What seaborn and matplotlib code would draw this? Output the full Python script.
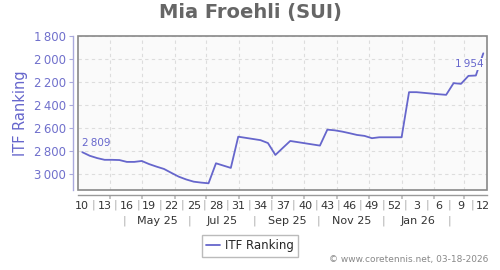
import datetime as dt
import matplotlib
matplotlib.use("Agg")
import matplotlib.pyplot as plt
import matplotlib.transforms as mtransforms
from matplotlib.patches import Rectangle
import seaborn as sns
import pandas as pd

# ---- data ----
week_labels = ["10", "13", "16", "19", "22", "25", "28", "31", "34", "37",
               "40", "43", "46", "49", "52", "3", "6", "9", "12"]
ranking = [2809, 2840, 2860, 2875, 2875, 2877, 2893, 2893, 2885, 2912,
           2934, 2954, 2988, 3021, 3045, 3064, 3072, 3078, 2905, 2925,
           2945, 2675, 2685, 2695, 2705, 2730, 2833, 2772, 2712, 2722,
           2732, 2742, 2752, 2614, 2620, 2631, 2645, 2660, 2668, 2688,
           2680, 2680, 2680, 2680, 2290, 2290, 2296, 2302, 2308, 2313,
           2212, 2218, 2149, 2146, 1954]
month_labels = ["May 25", "Jul 25", "Sep 25", "Nov 25", "Jan 26"]
y_ticks = [1800, 2000, 2200, 2400, 2600, 2800, 3000]
series_name = "ITF Ranking"
title = "Mia Froehli (SUI)"
credit = "\u00a9 www.coretennis.net, 03-18-2026"

start = dt.date(2025, 3, 6)  # Thursday of week 10, 2025


def widx(d):
    return (d - start).days / 7.0


month_starts = [dt.date(2025, m, 1) for m in range(4, 13)] + [dt.date(2026, m, 1) for m in (1, 2, 3)]
label_dates = [dt.date(2025, 5, 16), dt.date(2025, 7, 16), dt.date(2025, 9, 15),
               dt.date(2025, 11, 15), dt.date(2026, 1, 16)]
sep_dates = [dt.date(2025, 4, 15), dt.date(2025, 6, 15), dt.date(2025, 8, 15),
             dt.date(2025, 10, 15), dt.date(2025, 12, 15), dt.date(2026, 2, 15)]

df = pd.DataFrame({"week": list(range(len(ranking))), "rank": ranking, "series": series_name})

BLUE = "#6666cc"
sns.set_theme(style="white")
plt.rcParams["font.family"] = ["DejaVu Sans"]

fig = plt.figure(figsize=(5, 2.7), dpi=100)
ax = fig.add_axes([0.156, 0.2963, 0.818, 0.5722])
ax.set_facecolor("#fafafa")

sns.lineplot(data=df, x="week", y="rank", hue="series", palette=[BLUE],
             linewidth=1.3, ax=ax, legend=True)

ax.set_xlim(-0.58, 54.5)
ax.set_ylim(3136, 1800)

# y axis
ax.set_yticks(y_ticks)
ax.set_yticklabels([f"{v:,}".replace(",", "\u2009") for v in y_ticks])
ax.tick_params(axis="y", labelsize=8.5, length=3, width=0.8, pad=2,
               left=True, labelcolor="#7070cc", color="#aaaadd")
ax.set_ylabel("ITF Ranking", color=BLUE, fontsize=10.5, labelpad=4)
ax.set_xlabel("")

# spines
for s in ["top", "right"]:
    ax.spines[s].set_visible(False)
ax.spines["left"].set_position(("outward", 3.6))
ax.spines["left"].set_color("#aaaadd")
ax.spines["left"].set_linewidth(1)
ax.spines["bottom"].set_position(("outward", 3.6))
ax.spines["bottom"].set_color("#999999")
ax.spines["bottom"].set_linewidth(1)
ax.add_patch(Rectangle((0, 0), 1, 1, transform=ax.transAxes, fill=False,
                       edgecolor="#888888", linewidth=1.2, zorder=5, clip_on=False))

# x axis: month gridlines and week labels
ax.set_xticks([widx(d) for d in month_starts])
ax.set_xticklabels([])
ax.tick_params(axis="x", which="major", length=3, color="#bbbbbb", bottom=True)
week_pos = [i * 3 for i in range(len(week_labels))]
ax.set_xticks(week_pos, minor=True)
ax.set_xticklabels(week_labels, minor=True)
ax.tick_params(axis="x", which="minor", length=0, pad=4, labelsize=8, labelcolor="#333333")

ax.grid(True, which="major", axis="both", linestyle=(0, (3, 3)), color="#dddddd", linewidth=0.8)

trans = mtransforms.blended_transform_factory(ax.transData, ax.transAxes)
for p in week_pos[:-1]:
    ax.text(p + 1.5, -0.097, "|", transform=trans, ha="center", va="center",
            fontsize=8, color="#aaaaaa")
for d, lab in zip(label_dates, month_labels):
    ax.text(widx(d), -0.2, lab, transform=trans, ha="center", va="center",
            fontsize=8, color="#333333")
for d in sep_dates:
    ax.text(widx(d), -0.2, "|", transform=trans, ha="center", va="center",
            fontsize=8, color="#aaaaaa")

# annotations
first, last = ranking[0], ranking[-1]
ax.annotate(f"{first:,}".replace(",", "\u2009"), (0, first), xytext=(0, 3),
            textcoords="offset points", ha="left", va="bottom", fontsize=7.5, color=BLUE)
ax.annotate(f"{last:,}".replace(",", "\u2009"), (len(ranking) - 1, last), xytext=(0, -4),
            textcoords="offset points", ha="right", va="top", fontsize=7.5, color=BLUE,
            bbox=dict(boxstyle="square,pad=0.1", facecolor="#fafafa", edgecolor="none"))

# title
fig.text(0.5, 0.953, title, ha="center", va="center", fontsize=14, fontweight="bold",
         color="#666666")

# legend
h, l = ax.get_legend_handles_labels()
ax.get_legend().remove()
fig.legend(h, l, loc="center", bbox_to_anchor=(0.5, 0.089), bbox_transform=fig.transFigure,
           frameon=True, fancybox=False, edgecolor="#aaaaaa", fontsize=8.5,
           handlelength=1.2, handletextpad=0.4, borderpad=0.35)

fig.text(0.976, 0.022, credit, ha="right", va="bottom", fontsize=6.5, color="#888888")

fig.savefig("out.png", dpi=100)
